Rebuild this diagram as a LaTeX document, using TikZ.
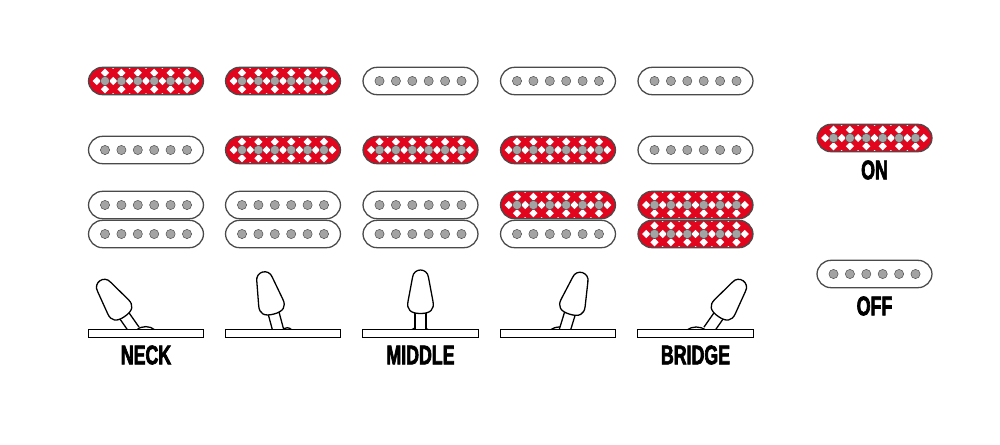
\documentclass[tikz,border=0pt]{standalone}
\usepackage{fontspec}
\usepackage{xcolor}
\usepackage{tikz}
\newfontfamily\labelfont[FakeStretch=0.66,FakeBold=2.4]{Liberation Sans}
\definecolor{pickupred}{HTML}{E2051E}
\definecolor{polegray}{HTML}{A3A3A3}
\definecolor{edgegray}{HTML}{4A4A4A}
\newcommand{\polerow}{
	\foreach \i in {-2.5,-1.5,-0.5,0.5,1.5,2.5} {
		\fill[polegray, draw=edgegray, line width=0.4pt] (\i*16.4, 0) circle (4.6);
	}
}
\newcommand{\weave}{
	\fill[pickupred] (-60, -16) rectangle (60, 16);
	\foreach \i in {-2.5,-1.5,-0.5,0.5,1.5,2.5} {
		\fill[white] (\i*16.4, -8.2) ++(-4.1, 0) -- ++(4.1, -4.1) -- ++(4.1, 4.1) -- ++(-4.1, 4.1) -- cycle;
		\fill[white] (\i*16.4, 8.2) ++(-4.1, 0) -- ++(4.1, -4.1) -- ++(4.1, 4.1) -- ++(-4.1, 4.1) -- cycle;
	}
	\foreach \i in {-3,-2,-1,0,1,2,3} {
		\fill[white] (\i*16.4, 0) ++(-4.1, 0) -- ++(4.1, -4.1) -- ++(4.1, 4.1) -- ++(-4.1, 4.1) -- cycle;
		\fill[white] (\i*16.4, -15) ++(-3, 0) -- ++(3, -3) -- ++(3, 3) -- ++(-3, 3) -- cycle;
		\fill[white] (\i*16.4, 15) ++(-3, 0) -- ++(3, -3) -- ++(3, 3) -- ++(-3, 3) -- cycle;
	}
}
\tikzset{
	pickupoff/.style={rectangle, rounded corners=0.42cm, minimum width=3.45cm, minimum height=0.82cm, inner sep=0pt, draw=edgegray, line width=1.1pt, fill=white, path picture={
		\begin{scope}[sharp corners, shift={(path picture bounding box.center)}]\polerow\end{scope}}},
	pickupon/.style={pickupoff, path picture={
		\begin{scope}[sharp corners, shift={(path picture bounding box.center)}]\weave\polerow\end{scope}}},
	plate/.style={rectangle, minimum width=3.47cm, minimum height=0.22cm, inner sep=0pt, draw=black, line width=1.1pt, fill=white},
	lever/.style={draw=black, line width=1.1pt, fill=white, line join=round},
	caption/.style={font=\labelfont\bfseries\fontsize{23}{23}\selectfont, inner sep=0pt}
}
% foot position, lean angle
\newcommand{\toggle}[2]{
	\begin{scope}[shift={(#1, 329.5)}, rotate=#2]
		\draw[lever] (-5.5, 1) -- (-5.5, -18) -- (5.5, -18) -- (5.5, 1);
		\draw[lever] (0, -16) .. controls (-10, -16) and (-14, -20) .. (-12.5, -28) -- (-8, -52) .. controls (-7, -62) and (7, -62) .. (8, -52) -- (12.5, -28) .. controls (14, -20) and (10, -16) .. (0, -16) -- cycle;
	\end{scope}
}
\begin{document}
\begin{tikzpicture}[x=0.03cm, y=-0.03cm]
			\useasboundingbox (0, 0) rectangle (1000, 445);
			% top row
			\node[pickupon] (n1) at (146, 81) {};
			\node[pickupon] (n2) at (283, 81) {};
			\node[pickupoff] (n3) at (420.5, 81) {};
			\node[pickupoff] (n4) at (558, 81) {};
			\node[pickupoff] (n5) at (695.5, 81) {};
			% middle row
			\node[pickupoff] (m1) at (146, 150) {};
			\node[pickupon] (m2) at (283, 150) {};
			\node[pickupon] (m3) at (420.5, 150) {};
			\node[pickupon] (m4) at (558, 150) {};
			\node[pickupoff] (m5) at (695.5, 150) {};
			% humbucker rows
			\node[pickupoff] (h1) at (146, 205) {};
			\node[pickupoff] (h2) at (283, 205) {};
			\node[pickupoff] (h3) at (420.5, 205) {};
			\node[pickupon] (h4) at (558, 205) {};
			\node[pickupon] (h5) at (695.5, 205) {};
			\node[pickupoff] (b1) at (146, 234) {};
			\node[pickupoff] (b2) at (283, 234) {};
			\node[pickupoff] (b3) at (420.5, 234) {};
			\node[pickupoff] (b4) at (558, 234) {};
			\node[pickupon] (b5) at (695.5, 234) {};
			% legend
			\node[pickupon] (on) at (874.5, 138) {};
			\node[pickupoff] (off) at (874.5, 274) {};
			\node[caption] (ontext) at (874.5, 170) {ON};
			\node[caption] (offtext) at (874.5, 306) {OFF};
			% toggles
			\draw[lever] (136, 330) .. controls (142, 325.5) and (150, 325.5) .. (155, 330);
			\draw[lever] (282, 330) .. controls (286, 327) and (289, 327) .. (292, 330);
			\draw[lever] (411, 330) .. controls (414, 329) and (415, 328) .. (416, 326);
			\draw[lever] (429, 330) .. controls (426, 329) and (425, 328) .. (424, 326);
			\draw[lever] (550, 330) .. controls (553, 328) and (556, 327) .. (560, 327);
			\draw[lever] (687, 330) .. controls (692, 326) and (700, 326) .. (706, 330);
			\toggle{134}{35}
			\toggle{278}{15}
			\toggle{420.5}{0}
			\toggle{565}{-17}
			\toggle{709}{-35}
			\node[plate] (s1) at (146, 333.5) {};
			\node[plate] (s2) at (283, 333.5) {};
			\node[plate] (s3) at (420.5, 333.5) {};
			\node[plate] (s4) at (558, 333.5) {};
			\node[plate] (s5) at (695.5, 333.5) {};
			\node[caption] (neck) at (146, 355) {NECK};
			\node[caption] (middle) at (420.5, 355) {MIDDLE};
			\node[caption] (bridge) at (695.5, 355) {BRIDGE};
		\end{tikzpicture}
\end{document}
